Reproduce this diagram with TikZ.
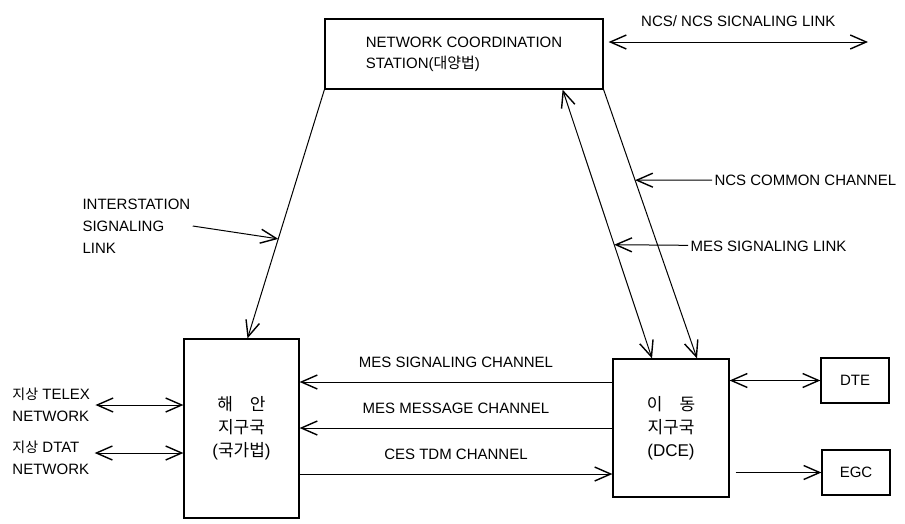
\documentclass[tikz,border=0pt]{standalone}
\usepackage{fontspec}
\setmainfont{Liberation Sans}
\newfontfamily\kr{Noto Sans CJK KR}
\usepackage{tikz}
\usetikzlibrary{arrows.meta, positioning, calc}
\tikzset{
  kotak/.style={rectangle, draw, line width=1.2pt, align=center, inner sep=0pt},
  ket/.style={align=left, inner sep=2pt},
  tulisan/.style={midway, above=12pt, inner sep=2pt}
}

\begin{document}
\begin{tikzpicture}[x=1pt, y=-1pt, line width=1pt,
    >={Straight Barb[length=16pt, width=14pt, line width=1.4pt]},
    font=\fontsize{15}{22}\selectfont]
  \useasboundingbox (0,0) rectangle (905,523);
  \node[kotak, minimum width=278pt, minimum height=70pt, align=left, font=\fontsize{15}{21}\selectfont] (ncs) at (464,54)
    {NETWORK COORDINATION\\STATION({\kr\fontsize{15}{21}\selectfont 대양법})};
  \node[kotak, minimum width=115pt, minimum height=179pt, font=\fontsize{17}{23}\selectfont] (ces) at (241.5,428.5)
    {{\kr 해\hspace{1em}안}\\{\kr 지구국}\\({\kr 국가법})};
  \node[kotak, minimum width=116pt, minimum height=138pt, font=\fontsize{17}{23}\selectfont] (mes) at (671,428)
    {{\kr 이\hspace{1em}동}\\{\kr 지구국}\\(DCE)};
  \node[kotak, minimum width=68pt, minimum height=45pt] (dte) at (855,380.5) {DTE};
  \node[kotak, minimum width=68pt, minimum height=45pt] (egc) at (856,472.5) {EGC};

  \node[ket, anchor=west] (teleks) at (10,405) {{\kr\fontsize{14}{22}\selectfont 지상} TELEX\\NETWORK};
  \node[ket, anchor=west] (dtat) at (10,458) {{\kr\fontsize{14}{22}\selectfont 지상} DTAT\\NETWORK};
  \node[ket, anchor=west] (isl) at (80,226) {INTERSTATION\\SIGNALING\\LINK};
  \node[ket, anchor=west] (ncc) at (712,180) {NCS COMMON CHANNEL};
  \node[ket, anchor=west] (msl) at (688,246) {MES SIGNALING LINK};

  \coordinate (ujung) at (868,42);
  \coordinate (islpt) at ($(ncs.south west)!0.6!([xshift=6pt]ces.north)$);
  \coordinate (nccpt) at ($(ncs.south east)!0.337!([xshift=26pt]mes.north)$);
  \coordinate (mslpt) at ($([xshift=-41pt]ncs.south east)!0.577!([xshift=-19pt]mes.north)$);

  \draw[<->] ([xshift=5pt, yshift=12pt]ncs.east) -- (ujung)
    node[midway, above=13pt, inner sep=2pt] {NCS/ NCS SICNALING LINK};
  \draw[->] (ncs.south west) -- ([xshift=6pt]ces.north);
  \draw[<->] ([xshift=-41pt]ncs.south east) -- ([xshift=-19pt]mes.north);
  \draw[->] (ncs.south east) -- ([xshift=26pt]mes.north);

  \draw[->] (isl.east) -- (islpt);
  \draw[->] (ncc) -- (nccpt);
  \draw[->] (msl) -- (mslpt);

  \draw[->] ([yshift=46pt]mes.west) -- ([yshift=46pt]mes.west -| ces.east)
    node[tulisan] {MES SIGNALING CHANNEL};
  \draw[->] (mes.west) -- (mes.west -| ces.east)
    node[tulisan] {MES MESSAGE CHANNEL};
  \draw[->] ([yshift=-46pt]mes.west -| ces.east) -- ([yshift=-46pt]mes.west)
    node[tulisan] {CES TDM CHANNEL};

  \draw[<->, shorten <=3pt] (teleks.east) -- (teleks.east -| ces.west);
  \draw[<->, shorten <=3pt] ([yshift=5pt]dtat.east) -- ([yshift=5pt]dtat.east -| ces.west);
  \draw[<->] (dte.west -| mes.east) -- (dte.west);
  \draw[->] ([xshift=6pt]egc.west -| mes.east) -- (egc.west);
\end{tikzpicture}
\end{document}
